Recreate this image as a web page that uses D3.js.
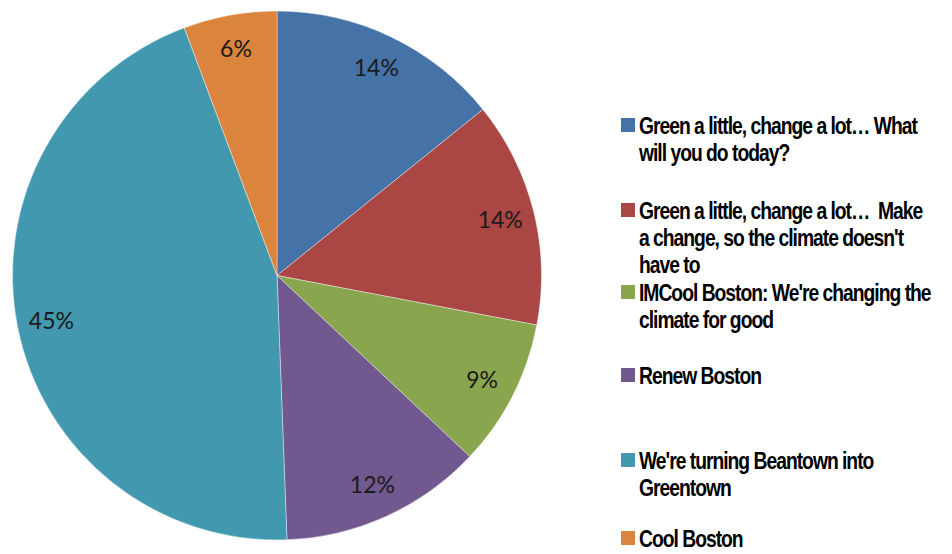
<!DOCTYPE html>
<html><head><meta charset="utf-8">
<script src="https://cdn.jsdelivr.net/npm/d3@7"></script>
<style>body{margin:0;background:#fff}svg{display:block}</style>
</head><body>
<script>
const categories = [
  "Green a little, change a lot… What|will you do today?",
  "Green a little, change a lot…  Make|a change, so the climate doesn't|have to",
  "IMCool Boston: We're changing the|climate for good",
  "Renew Boston",
  "We're turning Beantown into|Greentown",
  "Cool Boston"
];
const values = [14.2, 13.8, 9.0, 12.4, 44.9, 5.7];
const colors = ["#4572A7", "#AA4643", "#89A54E", "#71588F", "#4198AF", "#DB843D"];

const W = 952, H = 554;
const svg = d3.select("body").append("svg").attr("width", W).attr("height", H);
const cx = 277, cy = 275.5, R = 264.5;
const total = d3.sum(values);
const pie = d3.pie().sort(null).value(d => d)(values);
const arc = d3.arc().innerRadius(0).outerRadius(R);
const labelArc = d3.arc().innerRadius(R * 0.87).outerRadius(R * 0.87);
const g = svg.append("g").attr("transform", `translate(${cx},${cy})`);
g.selectAll("path").data(pie).join("path")
  .attr("d", arc).attr("fill", (d, i) => colors[i])
  .attr("stroke", "#ffffff").attr("stroke-width", 0.4);
const fmt = d3.format(".0%");
g.selectAll("text").data(pie).join("text")
  .attr("transform", d => `translate(${labelArc.centroid(d)})`)
  .attr("text-anchor", "middle").attr("dy", "0.35em")
  .attr("font-family", "Lato, 'Open Sans', sans-serif").attr("font-size", 23)
  .attr("fill", "#1a1a1a")
  .text(d => fmt(d.data / total));

const legendTops = [118, 203, 285, 368, 453, 531];
const lg = svg.append("g");
categories.forEach((c, i) => {
  const y0 = legendTops[i];
  lg.append("rect").attr("x", 621).attr("y", y0).attr("width", 14).attr("height", 14)
    .attr("fill", colors[i]);
  const lines = c.split("|");
  lines.forEach((ln, j) => {
    lg.append("text")
      .attr("transform", `translate(639,${y0 + 16 + j * 27}) scale(0.84,1)`)
      .attr("font-family", "'Liberation Sans', Arial, sans-serif")
      .attr("font-weight", "bold").attr("font-size", 23)
      .attr("letter-spacing", -1.2)
      .style("white-space", "pre")
      .attr("fill", "#000").text(ln);
  });
});
</script>
</body></html>
